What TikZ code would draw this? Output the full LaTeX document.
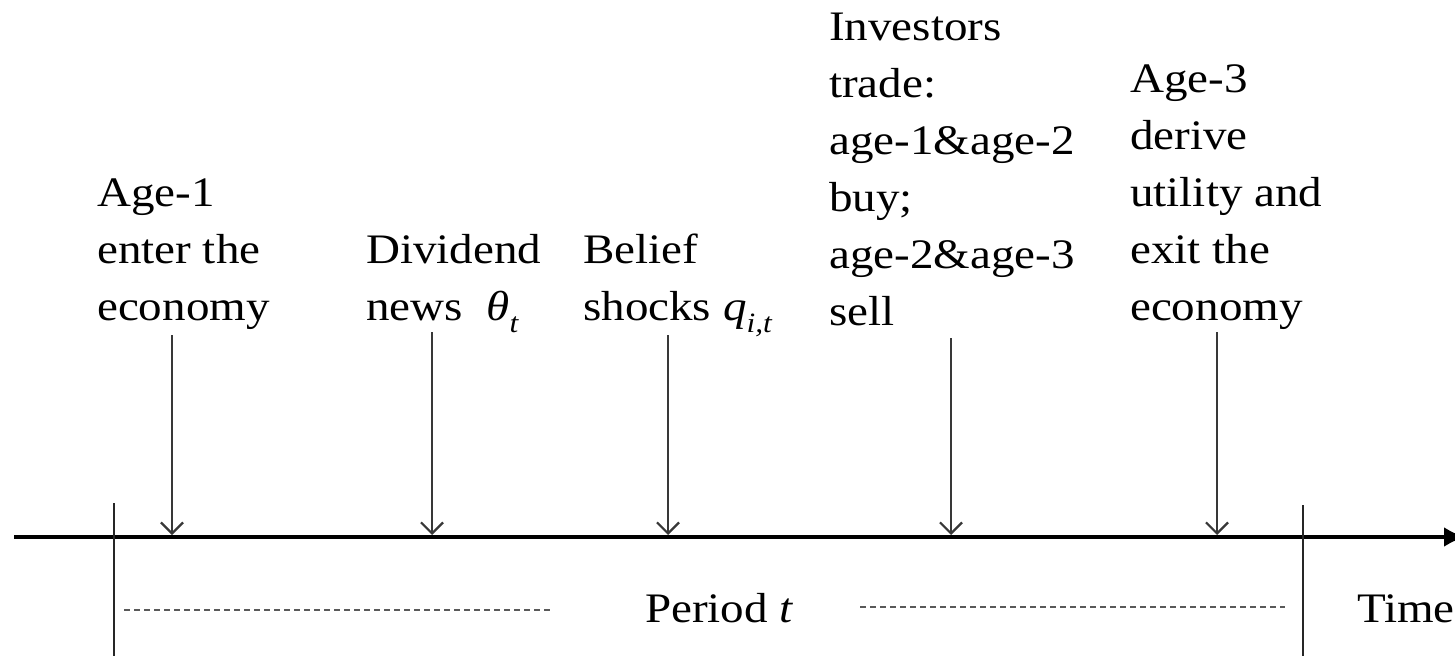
\documentclass[tikz,border=0pt]{standalone}
\usepackage{fontspec}
\setmainfont{Liberation Serif}[FakeStretch=1.12]
\usetikzlibrary{arrows.meta}
\newcommand{\lblsize}{\fontsize{42}{57}\selectfont}
\newcommand{\subsz}[1]{\raisebox{-0.3em}{\fontsize{28}{28}\selectfont\textit{#1}}}
\tikzset{
  lbl/.style={anchor=base west, align=left, inner sep=0pt, font=\lblsize, text=black},
  evarrow/.style={draw=black!78, line width=2.4pt, -{Straight Barb[length=11pt,width=22pt,line width=2.2pt]}},
  tick/.style={draw=black!85, line width=2.2pt},
  axis/.style={draw=black, line width=4.5pt, -{Latex[length=22pt,width=20pt]}},
  dashl/.style={draw=black!65, line width=1.6pt, dash pattern=on 6pt off 4pt}
}
\begin{document}
\begin{tikzpicture}[x=1pt,y=-1pt]
\useasboundingbox (0,0) rectangle (1455,658);
% labels (anchored at the baseline of their last line)
\node[lbl] (n1) at (97,320) {Age-1\\enter the\\economy};
\node[lbl] (n2) at (366,320) {Dividend\\news~ \textit{θ}\subsz{t}};
\node[lbl] (n3) at (583,320) {Belief\\shocks \textit{q}\subsz{i,t}};
\node[lbl] (n4) at (829,325) {Investors\\trade:\\age-1\&age-2\\buy;\\age-2\&age-3\\sell};
\node[lbl] (n5) at (1130,320) {Age-3\\derive\\utility and\\exit the\\economy};
% axis
\coordinate (axL) at (14,537);
\coordinate (axR) at (1466,537);
\draw[axis] (axL) -- (axR);
% arrows
\foreach \i/\x/\yt in {1/172/335, 2/432/332, 3/668/335, 4/951/338, 5/1217/332}{
  \coordinate (s\i) at (\x,\yt);
  \coordinate (e\i) at (\x,535);
  \draw[evarrow] (s\i) -- (e\i);
}
% ticks
\coordinate (tl1) at (114,503); \coordinate (tl2) at (114,656);
\coordinate (tr1) at (1303,505); \coordinate (tr2) at (1303,656);
\draw[tick] (tl1) -- (tl2);
\draw[tick] (tr1) -- (tr2);
% period label
\node[lbl] (per) at (645,622) {Period \textit{t}};
\node[lbl] (time) at (1357,622) {Time};
\coordinate (d1a) at (124,610); \coordinate (d1b) at (552,610);
\coordinate (d2a) at (860,607); \coordinate (d2b) at (1285,607);
\draw[dashl] (d1a) -- (d1b);
\draw[dashl] (d2a) -- (d2b);
\end{tikzpicture}
\end{document}
